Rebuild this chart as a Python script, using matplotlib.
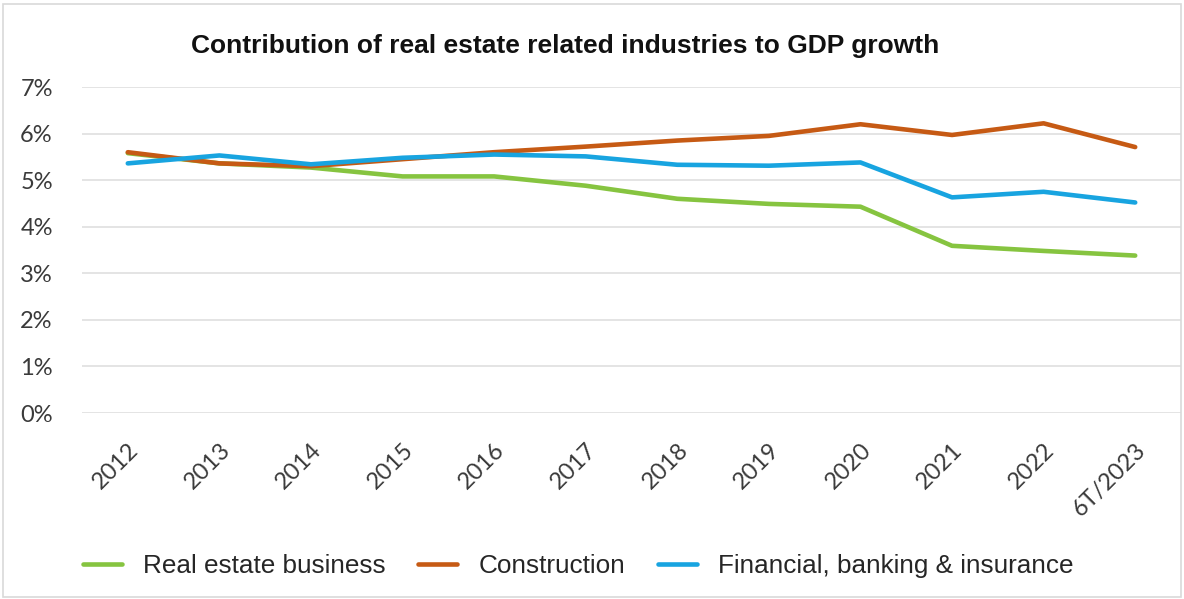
import matplotlib
matplotlib.use("Agg")
import matplotlib.pyplot as plt
from matplotlib.patches import Rectangle
from matplotlib.ticker import FuncFormatter

categories = ["2012", "2013", "2014", "2015", "2016", "2017", "2018",
              "2019", "2020", "2021", "2022", "6T/2023"]
real_estate = [5.58, 5.36, 5.27, 5.08, 5.08, 4.88, 4.60, 4.49, 4.43, 3.59, 3.48, 3.38]
construction = [5.60, 5.36, 5.30, 5.45, 5.60, 5.72, 5.85, 5.95, 6.20, 5.97, 6.22, 5.71]
financial = [5.36, 5.53, 5.34, 5.48, 5.55, 5.51, 5.33, 5.31, 5.38, 4.63, 4.75, 4.52]

series_names = ["Real estate business", "Construction", "Financial, banking & insurance"]
colors = ["#86C440", "#C65A14", "#18A4E0"]

W, H = 1184, 599
fig = plt.figure(figsize=(W / 100, H / 100), dpi=100)
fig.patch.set_facecolor("white")
ax = fig.add_axes([82 / W, 1 - 413 / H, (1181 - 82) / W, (413 - 87) / H])

x = list(range(len(categories)))
for vals, name, c in zip([real_estate, construction, financial], series_names, colors):
    ax.plot(x, vals, color=c, lw=3.3, label=name, solid_capstyle="round",
            solid_joinstyle="round")

ax.set_xlim(-0.5, len(categories) - 0.5)
ax.set_ylim(0, 7)
ax.set_yticks(range(0, 8))
ax.yaxis.set_major_formatter(FuncFormatter(lambda v, p: f"{int(v)}%"))
ax.set_xticks(x)
ax.set_xticklabels(categories, rotation=45, ha="right", rotation_mode="anchor")

ax.grid(axis="y", color="#E4E4E4", lw=1.4)
ax.set_axisbelow(True)
for s in ax.spines.values():
    s.set_visible(False)
ax.tick_params(axis="both", length=0, labelsize=17, labelcolor="#3A3A3A")
ax.tick_params(axis="x", pad=19)
ax.tick_params(axis="y", pad=21)
for lab in ax.get_xticklabels() + ax.get_yticklabels():
    lab.set_family("Lato")

fig.text(565 / W, 1 - 53 / H, "Contribution of real estate related industries to GDP growth",
         ha="center", va="baseline", fontsize=19, fontweight="bold",
         family="Liberation Sans", color="#111111")

leg = fig.legend(loc="center", bbox_to_anchor=(578 / W, 1 - 566 / H), ncol=3,
                 frameon=False, prop={"family": "Liberation Sans", "size": 18.8},
                 handlelength=1.5, handletextpad=0.8, columnspacing=1.25)
for t in leg.get_texts():
    t.set_color("#262626")

fig.add_artist(Rectangle((3 / W, 2 / H), 1 - 6 / W, 1 - 6 / H,
                         transform=fig.transFigure, fill=False,
                         edgecolor="#D9D9D9", lw=1.2))

fig.savefig("out.png", dpi=100, facecolor="white")
